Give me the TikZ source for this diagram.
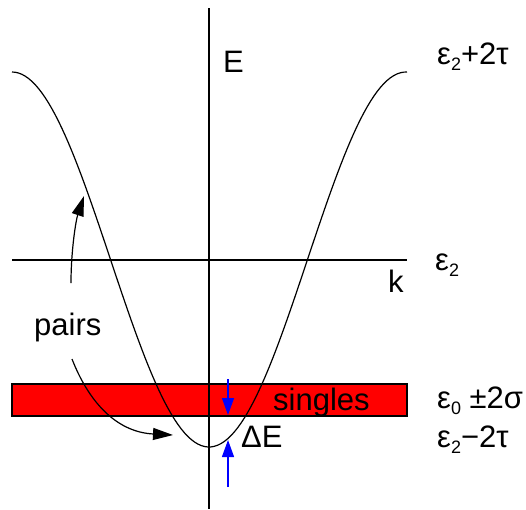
\documentclass[tikz,border=0pt]{standalone}
\usepackage{fontspec}
\setmainfont{Liberation Sans}
\usetikzlibrary{arrows.meta}
\newcommand{\lowidx}[1]{\raisebox{-6pt}{\fontsize{18}{18}\selectfont #1}}

\begin{document}
\begin{tikzpicture}[x=1pt,y=-1pt,
  lbl/.style={font=\fontsize{31}{36}\selectfont, inner sep=0pt, anchor=base west},
  band/.style={draw=black, fill=red, line width=1.3pt},
  axisline/.style={line width=1.2pt},
  dispersion/.style={line width=1.2pt},
  pairarrow/.style={line width=1.2pt, -{Triangle[length=20pt,width=12pt]}},
  gaparrow/.style={draw=blue, line width=1.3pt, -{Triangle[length=17pt,width=12pt]}},
]
\useasboundingbox (0,0) rectangle (526,509);

% band of single states
\draw[band] (12,384) rectangle (407,416);

% axes
\coordinate (vtop) at (209,8);
\coordinate (vbot) at (209,509);
\coordinate (hleft) at (12,260);
\coordinate (hright) at (407,260);
\draw[axisline] (vtop) -- (vbot);
\draw[axisline] (hleft) -- (hright);

% cosine band
\draw[dispersion] plot[domain=12:407, samples=120] (\x, {259.5 + 187.5*cos(0.913706*(\x-209))});

% labels
\node[lbl] (elbl) at (223,72) {E};
\node[lbl] (klbl) at (388,292) {k};
\node[lbl] (top) at (437,64) {ε\lowidx{2}+2τ};
\node[lbl] (mid) at (435,270) {ε\lowidx{2}};
\node[lbl] (sgm) at (437,408) {ε\lowidx{0} ±2σ};
\node[lbl] (bot) at (437,447) {ε\lowidx{2}−2τ};
\node[lbl] (singles) at (273,410) {singles};
\node[lbl] (gap) at (241,447) {ΔE};
\node[lbl] (pairs) at (34,335) {pairs};

% pair arrows
\coordinate (pup0) at (71,283);
\coordinate (pup1) at (84,196);
\coordinate (pdn0) at (72,359);
\coordinate (pdn1) at (173,435);
\draw[pairarrow] (pup0) .. controls (71,250) and (76,220) .. (pup1);
\draw[pairarrow] (pdn0) .. controls (88,400) and (115,432) .. (pdn1);

% gap arrows
\coordinate (gtop) at (228,379);
\coordinate (gband) at (228,415);
\coordinate (gmin) at (228,440);
\coordinate (gbot) at (228,487);
\draw[gaparrow] (gtop) -- (gband);
\draw[gaparrow] (gbot) -- (gmin);
\end{tikzpicture}
\end{document}
